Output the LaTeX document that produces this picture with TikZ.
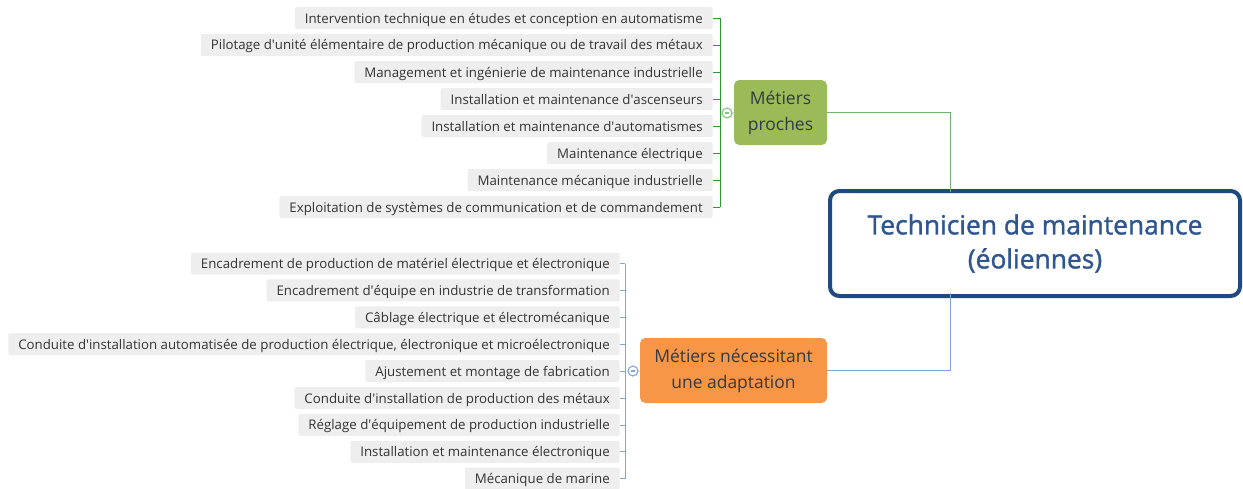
\documentclass[tikz,border=0pt]{standalone}
\usepackage{fontspec}
\setmainfont{Open Sans}
\newfontfamily\titrefont{Open Sans}[FakeBold=1.3]
\usetikzlibrary{positioning}

\definecolor{texte}{HTML}{333333}
\definecolor{titre}{HTML}{2F5690}
\definecolor{cadre}{HTML}{1F4A80}
\definecolor{vert}{HTML}{9BBB59}
\definecolor{orange}{HTML}{F79646}
\definecolor{lienvert}{HTML}{2E992E}
\definecolor{lienbleu}{HTML}{7BA6DE}
\definecolor{fondgris}{HTML}{EEEEEE}

\newcommand{\ap}{\textquotesingle}

\tikzset{
  leaf/.style={fill=fondgris, rounded corners=1.5pt, anchor=east, text=texte,
    font=\fontsize{9.95pt}{11pt}\selectfont, inner xsep=7.5pt, inner ysep=2.5pt,
    text height=9.5pt, text depth=2pt},
  categorie/.style={rounded corners=4pt, text=texte!80!titre, align=center,
    font=\fontsize{13.1pt}{19.5pt}\selectfont, minimum height=48.75pt},
  pli/.style={circle, draw, fill=white, minimum size=7.5pt, inner sep=0pt, line width=0.8pt},
}

\begin{document}
\begin{tikzpicture}[x=0.75pt,y=-0.75pt]
\useasboundingbox (0,0) rectangle (1243,489);

% Noeud central
\node[draw=cadre, line width=3pt, rounded corners=7pt, fill=white,
  minimum width=307.5pt, minimum height=78.75pt, align=center, text=titre,
  font=\titrefont\fontsize{19.8pt}{25.5pt}\selectfont] (centre) at (1035,243.5)
  {Technicien de maintenance\\(éoliennes)};

% Les deux branches
\node[categorie, fill=vert, minimum width=69.75pt] (proches) at (780.5,112.5) {Métiers\\proches};
\node[categorie, fill=orange, minimum width=140.25pt] (adaptation) at (733.5,370.5) {Métiers nécessitant\\une adaptation};

\coordinate (haut) at (950,192);
\coordinate (bas) at (950,293);
\draw[lienvert!70!white, line width=0.6pt] (proches.east) -| (haut);
\draw[lienbleu, line width=0.6pt] (adaptation.east) -| (bas);

% Métiers proches
\foreach \txt [count=\i] in {
  Intervention technique en études et conception en automatisme,
  Pilotage d\ap{}unité élémentaire de production mécanique ou de travail des métaux,
  Management et ingénierie de maintenance industrielle,
  Installation et maintenance d\ap{}ascenseurs,
  Installation et maintenance d\ap{}automatismes,
  Maintenance électrique,
  Maintenance mécanique industrielle,
  Exploitation de systèmes de communication et de commandement}
  \node[leaf] (p\i) at (713,{18+27*(\i-1)}) {\txt};

\coordinate (barre p) at (720,113);
\foreach \i in {1,...,8}
  \draw[lienvert, line width=0.6pt] (p\i.east) -- (p\i.east -| barre p);
\draw[lienvert, line width=0.6pt] (p1.east -| barre p) -- (p8.east -| barre p);
\node[pli, draw=lienvert!60!white] (pli p) at (727,113) {};
\draw[lienvert!60!white, line width=0.8pt] ([xshift=-1.7pt]pli p.center) -- ([xshift=1.7pt]pli p.center);
\draw[lienvert, line width=0.6pt] (pli p) -- (proches);

% Métiers nécessitant une adaptation
\foreach \txt [count=\i] in {
  Encadrement de production de matériel électrique et électronique,
  Encadrement d\ap{}équipe en industrie de transformation,
  Câblage électrique et électromécanique,
  {Conduite d\ap{}installation automatisée de production électrique, électronique et microélectronique},
  Ajustement et montage de fabrication,
  Conduite d\ap{}installation de production des métaux,
  Réglage d\ap{}équipement de production industrielle,
  Installation et maintenance électronique,
  Mécanique de marine}
  \node[leaf] (a\i) at (620,{263.5+26.9*(\i-1)}) {\txt};

\coordinate (barre a) at (625,371);
\foreach \i in {1,...,9}
  \draw[lienbleu, line width=0.6pt] (a\i.east) -- (a\i.east -| barre a);
\draw[lienbleu, line width=0.6pt] (a1.east -| barre a) -- (a9.east -| barre a);
\node[pli, draw=lienbleu] (pli a) at (633,371) {};
\draw[lienbleu, line width=0.8pt] ([xshift=-1.7pt]pli a.center) -- ([xshift=1.7pt]pli a.center);
\draw[lienbleu, line width=0.6pt] (pli a) -- (adaptation);
\end{tikzpicture}
\end{document}
